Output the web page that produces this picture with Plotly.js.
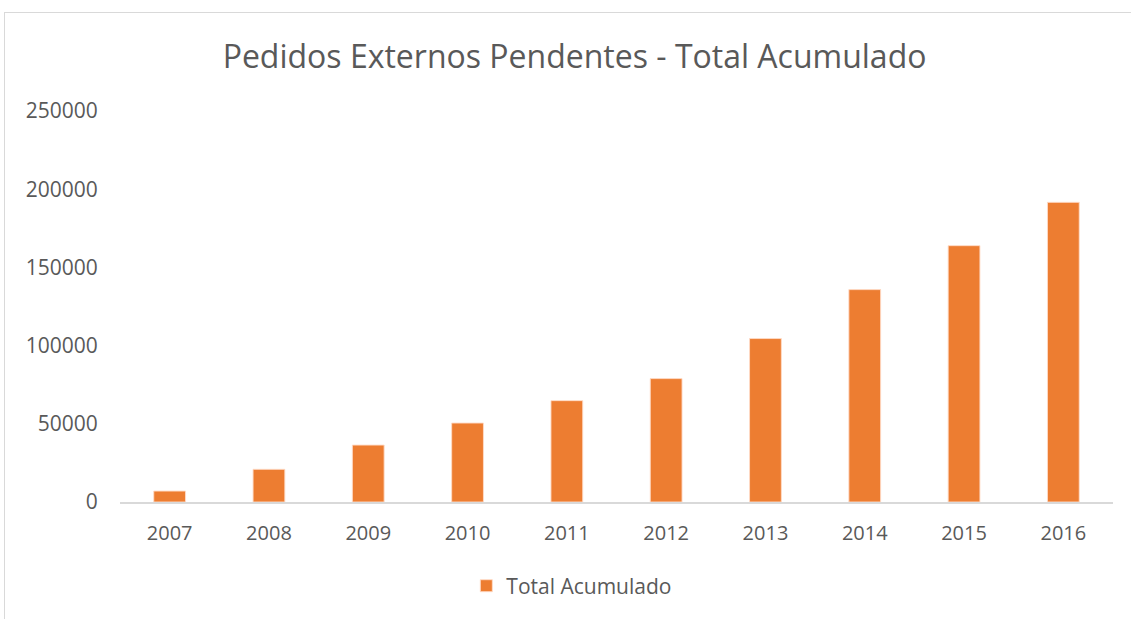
<!DOCTYPE html>
<html>
<head>
<meta charset="utf-8">
<script src="https://cdn.plot.ly/plotly-3.0.1.min.js"></script>
<style>
html,body{margin:0;padding:0;background:#fff;}
#frame{position:absolute;left:4px;top:12px;width:1140px;height:620px;border:1px solid #d9d9d9;box-sizing:border-box;}
#chart{position:absolute;left:0;top:0;width:1131px;height:619px;}
</style>
</head>
<body>
<div id="frame"></div>
<div id="chart"></div>
<script>
const years = ["2007","2008","2009","2010","2011","2012","2013","2014","2015","2016"];
const totalAcumulado = [7000, 20900, 36400, 50500, 64800, 78900, 104500, 135800, 163900, 191600];
const yTicks = [0, 50000, 100000, 150000, 200000, 250000];
const seriesName = "Total Acumulado";
const chartTitle = "Pedidos Externos Pendentes - Total Acumulado";

const FONT = "'Open Sans', 'Noto Sans', sans-serif";
const data = [{
  type: "bar",
  x: years,
  y: totalAcumulado,
  name: seriesName,
  marker: {color: "#ED7D31", line: {color: "rgba(255,220,200,0.9)", width: 1}},
  hoverinfo: "x+y"
}];
const layout = {
  width: 1131, height: 619,
  margin: {l: 120, r: 18, t: 111, b: 117},
  paper_bgcolor: "rgba(0,0,0,0)",
  plot_bgcolor: "rgba(0,0,0,0)",
  font: {family: FONT, color: "#595959", size: 20},
  title: {text: chartTitle, x: 0.508, xanchor: "center", y: 0.908, yanchor: "middle",
          font: {family: FONT, size: 32, color: "#595959"}},
  bargap: 0.68,
  showlegend: true,
  legend: {orientation: "h", x: 0.455, xanchor: "center", y: -0.215, yanchor: "middle",
           font: {family: FONT, size: 21, color: "#595959"}},
  xaxis: {
    type: "category",
    showline: true, linecolor: "#d9d9d9", linewidth: 1.5,
    showgrid: false, zeroline: false,
    ticks: "outside", ticklen: 12, tickcolor: "rgba(0,0,0,0)",
    tickfont: {family: FONT, size: 20, color: "#595959"}
  },
  yaxis: {
    range: [0, 250000],
    tickvals: yTicks,
    ticktext: yTicks.map(String),
    showline: false, showgrid: false, zeroline: false,
    ticks: "outside", ticklen: 17, tickcolor: "rgba(0,0,0,0)",
    tickfont: {family: FONT, size: 21, color: "#595959"}
  }
};
Plotly.newPlot("chart", data, layout, {displayModeBar: false, staticPlot: true});
</script>
</body>
</html>
